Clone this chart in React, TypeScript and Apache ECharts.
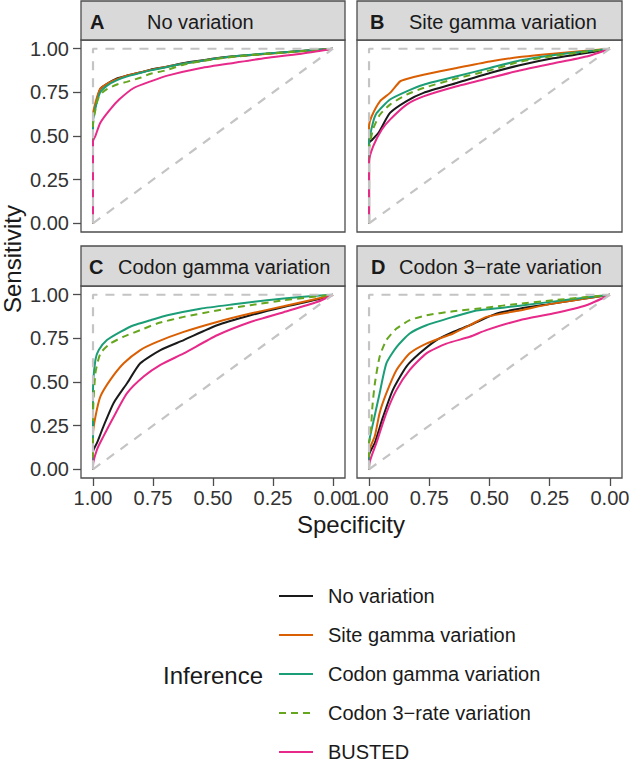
import React, { useEffect, useRef } from "react";
import * as echarts from "echarts";

// ---------- data: [specificity, sensitivity] ----------
const SERIES_NAMES = [
  "No variation",
  "Site gamma variation",
  "Codon gamma variation",
  "Codon 3\u2212rate variation",
  "BUSTED",
];
const PANEL_LETTERS = ["A", "B", "C", "D"];
const PANEL_TITLES = [
  "No variation",
  "Site gamma variation",
  "Codon gamma variation",
  "Codon 3\u2212rate variation",
];
const SPEC_TICKS = [0, 0.25, 0.5, 0.75, 1];
const SENS_TICKS = [0, 0.25, 0.5, 0.75, 1];

const A_noVar = [[1,0],[1,0.6],[0.99,0.67],[0.97,0.77],[0.94,0.8],[0.9,0.83],[0.86,0.846],[0.8,0.865],[0.76,0.88],[0.7,0.895],[0.62,0.918],[0.55,0.932],[0.48,0.947],[0.4,0.958],[0.28,0.971],[0.15,0.985],[0,1]];
const A_site = [[1,0],[1,0.62],[0.99,0.69],[0.97,0.77],[0.94,0.8],[0.9,0.825],[0.86,0.845],[0.8,0.865],[0.76,0.878],[0.7,0.895],[0.62,0.915],[0.55,0.93],[0.48,0.945],[0.4,0.957],[0.28,0.97],[0.15,0.984],[0,1]];
const A_codonG = [[1,0],[1,0.58],[0.99,0.66],[0.97,0.75],[0.94,0.79],[0.9,0.82],[0.86,0.84],[0.8,0.862],[0.76,0.876],[0.7,0.893],[0.62,0.915],[0.55,0.93],[0.48,0.945],[0.4,0.958],[0.28,0.972],[0.15,0.985],[0,1]];
const A_codon3 = [[1,0],[1,0.56],[0.99,0.65],[0.98,0.71],[0.96,0.75],[0.94,0.77],[0.9,0.795],[0.86,0.81],[0.8,0.835],[0.76,0.857],[0.7,0.875],[0.62,0.91],[0.55,0.928],[0.48,0.943],[0.4,0.956],[0.28,0.97],[0.15,0.984],[0,1]];
const A_busted = [[1,0],[1,0.47],[0.99,0.5],[0.97,0.575],[0.93,0.65],[0.89,0.71],[0.83,0.775],[0.76,0.813],[0.69,0.846],[0.55,0.89],[0.41,0.92],[0.28,0.947],[0.14,0.97],[0,1]];

const B_noVar = [[1,0],[1,0.46],[0.986,0.48],[0.96,0.52],[0.913,0.632],[0.844,0.7],[0.774,0.747],[0.636,0.804],[0.498,0.861],[0.375,0.905],[0.237,0.945],[0.098,0.975],[0,1]];
const B_site = [[1,0],[1,0.556],[0.989,0.613],[0.954,0.7],[0.913,0.747],[0.871,0.813],[0.844,0.827],[0.774,0.851],[0.636,0.89],[0.498,0.927],[0.375,0.952],[0.237,0.971],[0,1]];
const B_codonG = [[1,0],[1,0.46],[0.983,0.58],[0.968,0.632],[0.913,0.709],[0.844,0.756],[0.774,0.794],[0.636,0.842],[0.498,0.89],[0.375,0.932],[0.237,0.963],[0,1]];
const B_codon3 = [[1,0],[1,0.42],[0.983,0.54],[0.956,0.62],[0.913,0.68],[0.844,0.737],[0.774,0.775],[0.636,0.83],[0.498,0.876],[0.375,0.925],[0.237,0.958],[0,1]];
const B_busted = [[1,0],[1,0.35],[0.983,0.44],[0.947,0.537],[0.913,0.594],[0.844,0.68],[0.774,0.727],[0.636,0.785],[0.498,0.833],[0.375,0.875],[0.237,0.915],[0.098,0.955],[0,1]];

const C_noVar = [[1,0],[1,0.1],[0.983,0.152],[0.956,0.247],[0.914,0.38],[0.858,0.493],[0.803,0.607],[0.719,0.683],[0.622,0.74],[0.483,0.825],[0.344,0.882],[0.206,0.93],[0.067,0.972],[0,1]];
const C_site = [[1,0],[1,0.2],[0.99,0.3],[0.969,0.417],[0.928,0.512],[0.872,0.607],[0.803,0.683],[0.733,0.73],[0.622,0.787],[0.483,0.844],[0.344,0.892],[0.206,0.934],[0.067,0.977],[0,1]];
const C_codonG = [[1,0],[1,0.45],[0.99,0.626],[0.976,0.683],[0.942,0.74],[0.886,0.787],[0.83,0.825],[0.76,0.854],[0.69,0.882],[0.553,0.92],[0.414,0.945],[0.275,0.968],[0.136,0.987],[0,1]];
const C_codon3 = [[1,0],[1,0.3],[0.99,0.55],[0.969,0.664],[0.928,0.72],[0.872,0.76],[0.803,0.797],[0.733,0.835],[0.622,0.873],[0.483,0.91],[0.344,0.94],[0.206,0.968],[0,1]];
const C_busted = [[1,0],[1,0.02],[0.983,0.114],[0.956,0.19],[0.914,0.3],[0.858,0.436],[0.789,0.531],[0.719,0.598],[0.622,0.664],[0.483,0.768],[0.344,0.844],[0.206,0.9],[0.067,0.958],[0,1]];

const D_noVar = [[1,0],[1,0.08],[0.976,0.152],[0.942,0.3],[0.901,0.455],[0.845,0.588],[0.79,0.664],[0.72,0.74],[0.651,0.787],[0.582,0.825],[0.472,0.892],[0.375,0.92],[0.237,0.949],[0,1]];
const D_site = [[1,0],[1,0.1],[0.976,0.19],[0.956,0.323],[0.928,0.436],[0.886,0.569],[0.831,0.664],[0.762,0.72],[0.651,0.778],[0.582,0.825],[0.513,0.873],[0.375,0.91],[0.237,0.949],[0,1]];
const D_codonG = [[1,0],[1,0.15],[0.983,0.266],[0.956,0.436],[0.928,0.607],[0.886,0.7],[0.831,0.778],[0.762,0.825],[0.651,0.873],[0.554,0.91],[0.444,0.926],[0.306,0.949],[0.168,0.972],[0,1]];
const D_codon3 = [[1,0],[1,0.15],[0.994,0.19],[0.986,0.36],[0.976,0.49],[0.956,0.645],[0.928,0.74],[0.886,0.806],[0.831,0.854],[0.762,0.882],[0.651,0.905],[0.513,0.926],[0.375,0.949],[0.237,0.968],[0,1]];
const D_busted = [[1,0],[1,0.02],[0.969,0.152],[0.928,0.323],[0.886,0.455],[0.831,0.569],[0.762,0.664],[0.679,0.72],[0.582,0.759],[0.513,0.797],[0.375,0.854],[0.237,0.892],[0.098,0.94],[0,1]];

const PANEL_DATA = [
  [A_noVar, A_site, A_codonG, A_codon3, A_busted],
  [B_noVar, B_site, B_codonG, B_codon3, B_busted],
  [C_noVar, C_site, C_codonG, C_codon3, C_busted],
  [D_noVar, D_site, D_codonG, D_codon3, D_busted],
];
const DIAGONAL = [[1, 0], [0, 1]];
const PERFECT = [[1, 0], [1, 1], [0, 1]];

// ---------- styles ----------
const COLORS = ["#1a1a1a", "#D95F02", "#1B9E77", "#66A61E", "#E7298A"];
const FONT = "Liberation Sans, Arial, Helvetica, sans-serif";
const BORDER = "#4d4d4d";
const GRIDS = [
  { left: 81, top: 40, width: 264, height: 192 },
  { left: 357, top: 40, width: 265, height: 192 },
  { left: 81, top: 286, width: 264, height: 192 },
  { left: 357, top: 286, width: 265, height: 192 },
];
const STRIPS = [
  { x: 81, y: 1, w: 264, h: 39, lx: 90, tx: 147 },
  { x: 357, y: 1, w: 265, h: 39, lx: 370, tx: 409 },
  { x: 81, y: 246, w: 264, h: 40, lx: 89, tx: 118 },
  { x: 357, y: 246, w: 265, h: 40, lx: 371, tx: 399 },
];

function buildOption() {
  const grid = GRIDS.map((g) => ({
    ...g,
    show: true,
    borderColor: BORDER,
    borderWidth: 1.3,
    backgroundColor: "#ffffff",
    containLabel: false,
    outerBoundsMode: "none",
  }));
  const xAxis = GRIDS.map((_, i) => {
    const bottom = i >= 2;
    return {
      type: "value",
      gridIndex: i,
      position: "bottom",
      min: -0.05,
      max: 1.05,
      inverse: true,
      splitLine: { show: false },
      axisLine: { show: false, onZero: false },
      axisTick: bottom
        ? {
            show: true,
            customValues: SPEC_TICKS,
            length: 8,
            lineStyle: { color: BORDER, width: 1.3 },
          }
        : { show: false },
      axisLabel: bottom
        ? {
            show: true,
            customValues: SPEC_TICKS,
            margin: 10,
            fontSize: 20,
            fontFamily: FONT,
            color: "#333333",
            formatter: (v: number) => v.toFixed(2),
          }
        : { show: false },
    };
  });
  const yAxis = GRIDS.map((_, i) => {
    const left = i % 2 === 0;
    return {
      type: "value",
      gridIndex: i,
      position: "left",
      min: -0.05,
      max: 1.05,
      splitLine: { show: false },
      axisLine: { show: false, onZero: false },
      axisTick: left
        ? {
            show: true,
            customValues: SENS_TICKS,
            length: 8,
            lineStyle: { color: BORDER, width: 1.3 },
          }
        : { show: false },
      axisLabel: left
        ? {
            show: true,
            customValues: SENS_TICKS,
            margin: 12,
            fontSize: 20,
            fontFamily: FONT,
            color: "#333333",
            formatter: (v: number) => v.toFixed(2),
          }
        : { show: false },
    };
  });

  const series: any[] = [];
  PANEL_DATA.forEach((curves, p) => {
    curves.forEach((pts, s) => {
      series.push({
        type: "line",
        name: SERIES_NAMES[s],
        xAxisIndex: p,
        yAxisIndex: p,
        data: pts,
        symbol: "none",
        smooth: 0.2,
        color: COLORS[s],
        lineStyle: {
          color: COLORS[s],
          width: 2,
          type: s === 3 ? [7, 5] : "solid",
        },
        z: 3,
      });
    });
    [DIAGONAL, PERFECT].forEach((ref) => {
      series.push({
        type: "line",
        xAxisIndex: p,
        yAxisIndex: p,
        data: ref,
        symbol: "none",
        lineStyle: { color: "#c4c4c4", width: 2.2, type: [9, 8] },
        z: 4,
        silent: true,
      });
    });
  });

  const graphic: any[] = [];
  STRIPS.forEach((st, i) => {
    graphic.push({
      type: "rect",
      shape: { x: st.x, y: st.y, width: st.w, height: st.h },
      style: { fill: "#d9d9d9", stroke: BORDER, lineWidth: 1.3 },
    });
    graphic.push({
      type: "text",
      x: st.lx,
      y: st.y + st.h / 2 + 1,
      style: {
        text: PANEL_LETTERS[i],
        fontSize: 20,
        fontWeight: "bold",
        fontFamily: FONT,
        fill: "#1a1a1a",
        align: "left",
        verticalAlign: "middle",
      },
    });
    graphic.push({
      type: "text",
      x: st.tx,
      y: st.y + st.h / 2 + 1,
      style: {
        text: PANEL_TITLES[i],
        fontSize: 20,
        fontFamily: FONT,
        fill: "#1a1a1a",
        align: "left",
        verticalAlign: "middle",
      },
    });
  });
  graphic.push({
    type: "text",
    x: 351,
    y: 524,
    style: {
      text: "Specificity",
      fontSize: 24,
      fontFamily: FONT,
      fill: "#1a1a1a",
      align: "center",
      verticalAlign: "middle",
    },
  });
  graphic.push({
    type: "text",
    x: 12,
    y: 259,
    rotation: Math.PI / 2,
    style: {
      text: "Sensitivity",
      fontSize: 24,
      fontFamily: FONT,
      fill: "#1a1a1a",
      align: "center",
      verticalAlign: "middle",
    },
  });
  graphic.push({
    type: "text",
    x: 163,
    y: 675,
    style: {
      text: "Inference",
      fontSize: 24,
      fontFamily: FONT,
      fill: "#1a1a1a",
      align: "left",
      verticalAlign: "middle",
    },
  });

  return {
    animation: false,
    backgroundColor: "#ffffff",
    grid,
    xAxis,
    yAxis,
    series,
    graphic,
    legend: {
      data: SERIES_NAMES,
      orient: "vertical",
      left: 273,
      top: 581,
      height: 260,
      itemWidth: 34,
      itemHeight: 14,
      itemGap: 19,
      selectedMode: false,
      itemStyle: { opacity: 0 },
      textStyle: {
        fontSize: 20,
        lineHeight: 20,
        fontFamily: FONT,
        color: "#1a1a1a",
        padding: [0, 0, 0, 10],
      },
    },
  };
}

export default function App() {
  const ref = useRef<HTMLDivElement>(null);
  useEffect(() => {
    if (!ref.current) return;
    const chart = echarts.init(ref.current, null, { renderer: "svg" });
    chart.setOption(buildOption() as any);
    return () => chart.dispose();
  }, []);
  return (
    <div
      ref={ref}
      style={{ position: "absolute", left: 0, top: 0, width: 629, height: 759 }}
    />
  );
}
